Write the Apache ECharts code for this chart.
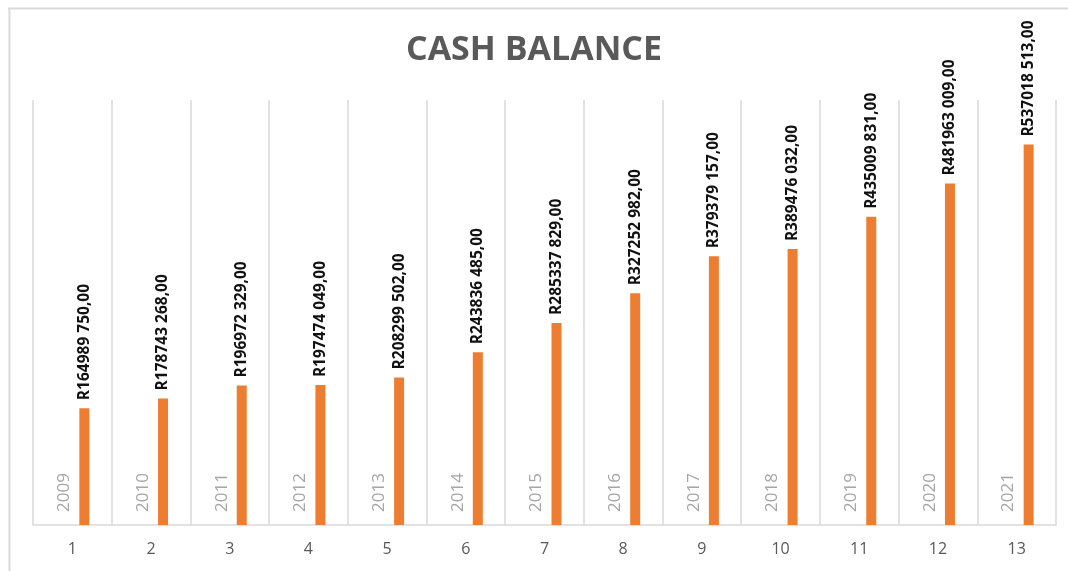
<!DOCTYPE html>
<html>
<head>
<meta charset="utf-8">
<script src="https://cdn.jsdelivr.net/npm/echarts@6/dist/echarts.min.js"></script>
<style>
html,body{margin:0;padding:0;background:#fff;}
#chart{width:1068px;height:571px;}
</style>
</head>
<body>
<div id="chart"></div>
<script>
const categories = ['1','2','3','4','5','6','7','8','9','10','11','12','13'];
const years = [2009,2010,2011,2012,2013,2014,2015,2016,2017,2018,2019,2020,2021];
const cashBalance = [164989750,178743268,196972329,197474049,208299502,243836485,285337829,327252982,379379157,389476032,435009831,481963009,537018513];

function fmtRand(v){
  const s = String(v);
  return 'R' + s.slice(0,-3) + ' ' + s.slice(-3) + ',00';
}

const chart = echarts.init(document.getElementById('chart'), null, {renderer:'canvas'});
chart.setOption({
  backgroundColor:'#ffffff',
  animation:false,
  title:{
    text:'CASH BALANCE',
    left:'center',
    top:28,
    textStyle:{fontFamily:'Open Sans',fontWeight:'bold',fontSize:34,color:'#595959'}
  },
  graphic:[
    {type:'line',shape:{x1:8,y1:8.5,x2:1068,y2:8.5},style:{stroke:'#d9d9d9',lineWidth:2}},
    {type:'line',shape:{x1:9.5,y1:8,x2:9.5,y2:571},style:{stroke:'#d9d9d9',lineWidth:2}}
  ],
  grid:{left:33,right:12,top:100,bottom:46},
  xAxis:{
    type:'category',
    data:categories,
    axisTick:{show:false},
    axisLine:{lineStyle:{color:'#d9d9d9',width:1.5}},
    axisLabel:{color:'#595959',fontSize:16,fontFamily:'Open Sans',margin:16},
    splitLine:{show:true,lineStyle:{color:'#d9d9d9',width:1.5}}
  },
  yAxis:{
    type:'value',
    min:0,max:600000000,
    show:false,
    splitLine:{show:false}
  },
  series:[
    {
      type:'bar',
      name:'Year',
      data:years,
      barWidth:10,
      barGap:'140%',
      itemStyle:{color:'#a5a5a5'},
      label:{
        show:true,
        position:'insideBottom',
        rotate:90,
        align:'left',
        verticalAlign:'middle',
        distance:13,
        offset:[0,4],
        color:'#a6a6a6',
        fontSize:17,
        fontFamily:'Open Sans'
      }
    },
    {
      type:'bar',
      name:'Cash balance',
      data:cashBalance,
      barWidth:10,
      itemStyle:{color:'#ed7d31'},
      label:{
        show:true,
        position:'top',
        rotate:90,
        align:'left',
        verticalAlign:'middle',
        distance:8,
        color:'#111111',
        fontSize:15.5,
        fontWeight:'bold',
        fontFamily:'Open Sans',
        formatter:function(p){return fmtRand(p.value);}
      }
    }
  ]
});
</script>
</body>
</html>
